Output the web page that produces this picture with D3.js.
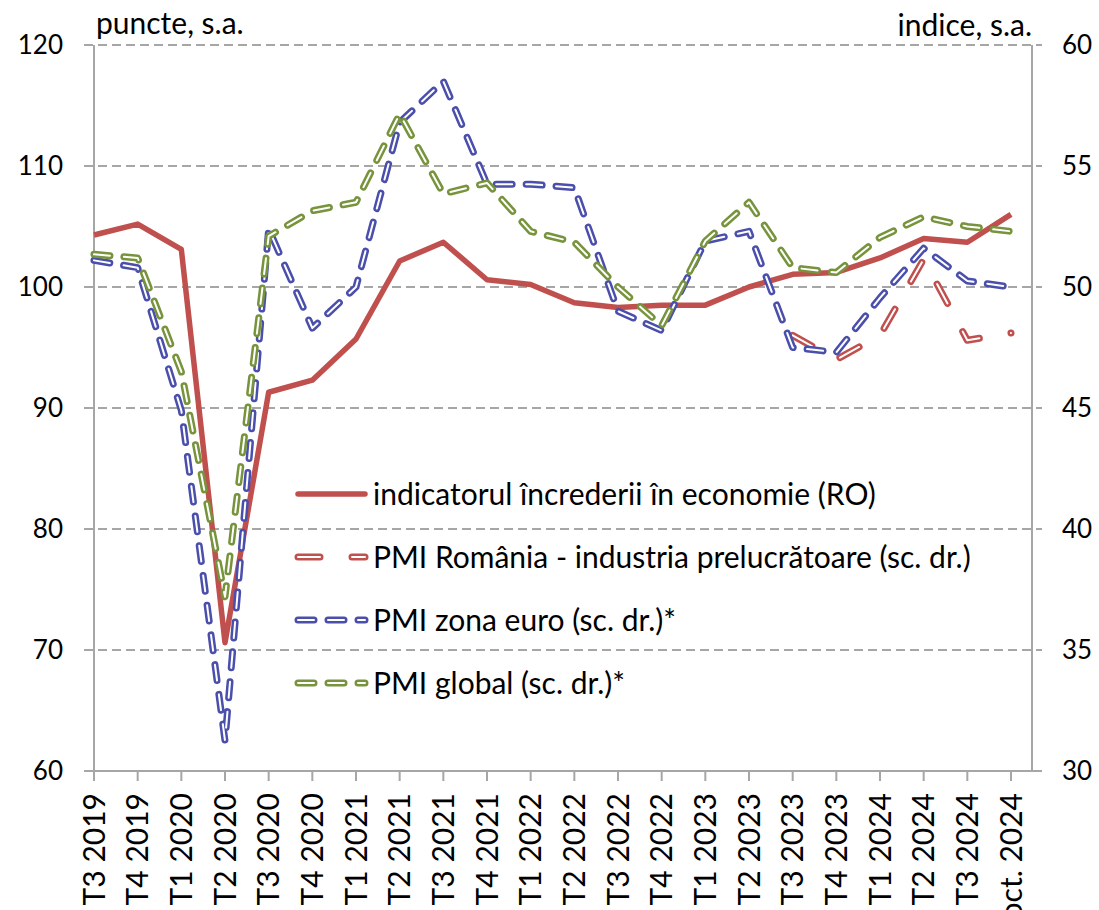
<!DOCTYPE html>
<html>
<head>
<meta charset="utf-8">
<script src="https://cdn.jsdelivr.net/npm/d3@7"></script>
<style>
  body { margin: 0; background: #fff; }
  svg { font-family: Lato, "Noto Sans", sans-serif; }
</style>
</head>
<body>
<svg id="chart" width="1099" height="910"></svg>
<script>
const categories = ['T3 2019', 'T4 2019', 'T1 2020', 'T2 2020', 'T3 2020', 'T4 2020',
    'T1 2021', 'T2 2021', 'T3 2021', 'T4 2021', 'T1 2022', 'T2 2022', 'T3 2022', 'T4 2022',
    'T1 2023', 'T2 2023', 'T3 2023', 'T4 2023', 'T1 2024', 'T2 2024', 'T3 2024', 'oct. 2024'];

// indicatorul increderii in economie (scala stanga)
const ice = [104.3, 105.2, 103.1, 70.6, 91.3, 92.3, 95.7, 102.15, 103.7, 100.6, 100.2,
    98.7, 98.3, 98.5, 98.5, 100.0, 101.05, 101.2, 102.4, 104.0, 103.7, 106.0];

// PMI-uri (scala dreapta)
const pmiRo = [null, null, null, null, null, null, null, null, null, null, null,
    null, null, null, null, null, 48.0, 47.0, 48.0, 51.15, 47.8, 48.1];
const pmiEuro = [51.1, 50.8, 44.9, 31.25, 52.4, 48.3, 50.0, 56.8, 58.5, 54.25, 54.25,
    54.1, 49.0, 48.2, 51.9, 52.3, 47.5, 47.3, 49.55, 51.6, 50.25, 50.0];
const pmiGlobal = [51.35, 51.2, 46.5, 37.2, 52.1, 53.15, 53.5, 57.15, 53.85, 54.3, 52.3,
    51.85, 50.0, 48.4, 51.9, 53.5, 50.8, 50.6, 52.05, 52.9, 52.5, 52.3];

const leftTicks = [60, 70, 80, 90, 100, 110, 120];
const rightTicks = [30, 35, 40, 45, 50, 55, 60];

const legendLabels = [
    'indicatorul încrederii în economie (RO)',
    'PMI România - industria prelucrătoare (sc. dr.)',
    'PMI zona euro (sc. dr.)*',
    'PMI global (sc. dr.)*'
];

const red = '#c0504d';
const blue = '#4b4fac';
const green = '#77933c';
const gridColor = '#a6a6a6';

const margin = { top: 45, right: 67, bottom: 139, left: 94 };
const svg = d3.select('#chart');
const width = +svg.attr('width') - margin.left - margin.right;
const height = +svg.attr('height') - margin.top - margin.bottom;

const g = svg.append('g')
    .attr('transform', `translate(${margin.left},${margin.top})`);

const x = d3.scalePoint().domain(categories).range([0, width - 21]);
const yLeft = d3.scaleLinear().domain([60, 120]).range([height, 0]);
const yRight = d3.scaleLinear().domain([30, 60]).range([height, 0]);

// grid lines (with stubs past both axes)
g.append('g')
    .selectAll('line')
    .data(leftTicks)
    .join('line')
    .attr('x1', -10)
    .attr('x2', width + 10)
    .attr('y1', d => yLeft(d))
    .attr('y2', d => yLeft(d))
    .attr('stroke', gridColor)
    .attr('stroke-width', 2)
    .attr('stroke-dasharray', d => d === 60 ? null : '9,5');

// vertical axes
g.append('line')
    .attr('x1', 0).attr('x2', 0)
    .attr('y1', 0).attr('y2', height)
    .attr('stroke', gridColor).attr('stroke-width', 2);
g.append('line')
    .attr('x1', width).attr('x2', width)
    .attr('y1', 0).attr('y2', height)
    .attr('stroke', gridColor).attr('stroke-width', 2);

// category ticks
g.append('g')
    .selectAll('line')
    .data(categories)
    .join('line')
    .attr('x1', d => x(d))
    .attr('x2', d => x(d))
    .attr('y1', height)
    .attr('y2', height + 10)
    .attr('stroke', gridColor)
    .attr('stroke-width', 2);

g.append('g')
    .selectAll('text')
    .data(categories)
    .join('text')
    .attr('transform', d => `translate(${x(d)},${height + 22}) rotate(-90)`)
    .attr('text-anchor', 'end')
    .attr('dy', '0.36em')
    .attr('font-size', 30)
    .attr('fill', '#000')
    .text(d => d);

g.append('g')
    .selectAll('text')
    .data(leftTicks)
    .join('text')
    .attr('x', -31)
    .attr('y', d => yLeft(d))
    .attr('dy', '0.36em')
    .attr('text-anchor', 'end')
    .attr('font-size', 26)
    .text(d => d);

g.append('g')
    .selectAll('text')
    .data(rightTicks)
    .join('text')
    .attr('x', width + 30)
    .attr('y', d => yRight(d))
    .attr('dy', '0.36em')
    .attr('font-size', 26)
    .text(d => d);

g.append('text')
    .attr('x', 2)
    .attr('y', -11)
    .attr('font-size', 30)
    .text('puncte, s.a.');

g.append('text')
    .attr('x', width)
    .attr('y', -9)
    .attr('text-anchor', 'end')
    .attr('font-size', 30)
    .text('indice, s.a.');

// series
const lineLeft = d3.line()
    .defined(d => d.v !== null)
    .x(d => x(d.c))
    .y(d => yLeft(d.v));

const lineRight = d3.line()
    .defined(d => d.v !== null)
    .x(d => x(d.c))
    .y(d => yRight(d.v));

const pairs = arr => arr.map((v, i) => ({ c: categories[i], v: v }));

g.append('path')
    .attr('d', lineLeft(pairs(ice)))
    .attr('fill', 'none')
    .attr('stroke', red)
    .attr('stroke-width', 5.5)
    .attr('stroke-linejoin', 'round');

function doubleLine(parent, d, color, dash) {
    parent.append('path')
        .attr('d', d)
        .attr('fill', 'none')
        .attr('stroke', color)
        .attr('stroke-width', 7)
        .attr('stroke-linecap', 'round')
        .attr('stroke-linejoin', 'round')
        .attr('stroke-dasharray', dash);
    parent.append('path')
        .attr('d', d)
        .attr('fill', 'none')
        .attr('stroke', '#fff')
        .attr('stroke-width', 2)
        .attr('stroke-linecap', 'round')
        .attr('stroke-linejoin', 'round')
        .attr('stroke-dasharray', dash);
}

const seriesDash = [
    { data: pmiRo, color: red, dash: '22,32' },
    { data: pmiEuro, color: blue, dash: '16,14' },
    { data: pmiGlobal, color: green, dash: '16,14' }
];

seriesDash.forEach(s => doubleLine(g, lineRight(pairs(s.data)), s.color, s.dash));

// legend
const legend = svg.append('g').attr('transform', 'translate(298,494)');
const rowGap = 63;

legend.append('line')
    .attr('x1', 0).attr('x2', 67)
    .attr('y1', 0).attr('y2', 0)
    .attr('stroke', red)
    .attr('stroke-width', 5.5)
    .attr('stroke-linecap', 'round');

seriesDash.forEach((s, i) => {
    const yy = (i + 1) * rowGap;
    doubleLine(legend, `M0,${yy}L67,${yy}`, s.color, s.dash);
});

legend.selectAll('text.lbl')
    .data(legendLabels)
    .join('text')
    .attr('class', 'lbl')
    .attr('x', 75)
    .attr('y', (d, i) => i * rowGap)
    .attr('dy', '0.36em')
    .attr('font-size', 30)
    .text(d => d);
</script>
</body>
</html>
